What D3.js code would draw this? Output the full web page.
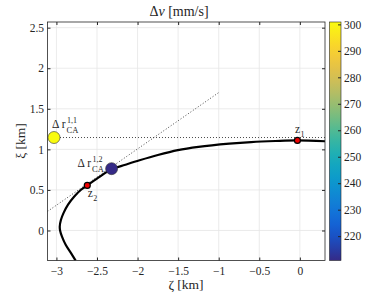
<!DOCTYPE html>
<html>
<head>
<meta charset="utf-8">
<script src="https://cdn.jsdelivr.net/npm/d3@7"></script>
<style>
  body { margin: 0; background: #fff; }
</style>
</head>
<body>
<svg id="chart" width="390" height="293"></svg>
<script>
// curve (zeta, xi) in km
const curveZeta = [-2.763, -2.82, -2.886, -2.93, -2.955, -2.959, -2.945, -2.91, -2.857, -2.78, -2.693, -2.62, -2.5, -2.32, -2.15, -1.975, -1.75, -1.504, -1.25, -0.87, -0.6, -0.3, -0.03, 0.31];
const curveXi   = [-0.372, -0.28, -0.177, -0.08, 0.0, 0.05, 0.13, 0.22, 0.319, 0.42, 0.505, 0.555, 0.64, 0.755, 0.81, 0.865, 0.93, 0.99, 1.03, 1.07, 1.09, 1.103, 1.11, 1.10];

// coloured dots: delta r_CA
const dotZeta = [-3.03, -2.32];
const dotXi = [1.146, 0.762];
const dotDv = [300.9, 210.8];

// red points z1, z2
const zZeta = [-0.03, -2.62];
const zXi = [1.11, 0.555];

// dotted guide lines
const hLine = { zeta: [-3.03, 0.31], xi: [1.146, 1.146] };
const dLine = { zeta: [-3.11, -1.0], xi: [0.235, 1.70] };

const xTicks = [-3, -2.5, -2, -1.5, -1, -0.5, 0];
const yTicks = [0, 0.5, 1, 1.5, 2, 2.5];
const cTicks = [220, 230, 240, 250, 260, 270, 280, 290, 300];

// parula approximation
const parulaStops = ["#352a87", "#0f5cdd", "#1481d6", "#06a4ca", "#2eb7a4", "#87bf77", "#d1bb59", "#fec832", "#f9fb0e"];
const parula = d3.interpolateRgbBasis(parulaStops);

const FONT = "Liberation Serif";
const svg = d3.select("#chart").style("font-family", FONT);
const L = 47.5, R = 325, T = 22, B = 260.5;

const x = d3.scaleLinear().domain([-3.11, 0.31]).range([L, R]);
const y = d3.scaleLinear().domain([-0.37, 2.57]).range([B, T]);
const cExt = d3.extent(dotDv);
const color = d3.scaleSequential(parula).domain(cExt);

svg.append("rect").attr("width", 390).attr("height", 293).attr("fill", "#fff");

svg.append("clipPath").attr("id", "clip")
  .append("rect").attr("x", L).attr("y", T).attr("width", R - L).attr("height", B - T);

// grid
const grid = svg.append("g").attr("stroke", "#e6e6e6").attr("stroke-width", 0.8);
grid.selectAll(".gx").data(xTicks).enter().append("line")
  .attr("x1", d => x(d)).attr("x2", d => x(d)).attr("y1", T).attr("y2", B);
grid.selectAll(".gy").data(yTicks).enter().append("line")
  .attr("y1", d => y(d)).attr("y2", d => y(d)).attr("x1", L).attr("x2", R);

// axes (inside ticks, box on)
function styleAxis(g) {
  g.attr("font-family", FONT);
  g.select(".domain").remove();
  g.selectAll(".tick line").attr("stroke", "#262626");
  g.selectAll(".tick text").attr("font-size", 11.5).attr("fill", "#262626").attr("font-family", FONT);
}
svg.append("g").attr("transform", `translate(0,${B})`)
  .call(d3.axisBottom(x).tickValues(xTicks).tickSize(-3).tickPadding(6.5).tickFormat(d3.format("")))
  .call(styleAxis);
svg.append("g").attr("transform", `translate(0,${T})`)
  .call(d3.axisTop(x).tickValues(xTicks).tickSize(-3).tickFormat(""))
  .call(styleAxis);
svg.append("g").attr("transform", `translate(${L},0)`)
  .call(d3.axisLeft(y).tickValues(yTicks).tickSize(-3).tickPadding(3.5).tickFormat(d3.format("")))
  .call(styleAxis);
svg.append("g").attr("transform", `translate(${R},0)`)
  .call(d3.axisRight(y).tickValues(yTicks).tickSize(-3).tickFormat(""))
  .call(styleAxis);

const plot = svg.append("g").attr("clip-path", "url(#clip)");

const line = d3.line().x(d => x(d[0])).y(d => y(d[1]));

plot.append("path")
  .attr("d", line(d3.zip(dLine.zeta, dLine.xi)))
  .attr("fill", "none").attr("stroke", "#333").attr("stroke-width", 0.9).attr("stroke-dasharray", "1 2");
plot.append("path")
  .attr("d", line(d3.zip(hLine.zeta, hLine.xi)))
  .attr("fill", "none").attr("stroke", "#333").attr("stroke-width", 0.9).attr("stroke-dasharray", "1 2");

plot.append("path")
  .attr("d", line.curve(d3.curveCatmullRom)(d3.zip(curveZeta, curveXi)))
  .attr("fill", "none").attr("stroke", "#000").attr("stroke-width", 2.2);

// red z points
plot.selectAll(".zp").data(d3.zip(zZeta, zXi)).enter().append("circle")
  .attr("cx", d => x(d[0])).attr("cy", d => y(d[1])).attr("r", 3)
  .attr("fill", "#e00").attr("stroke", "#000").attr("stroke-width", 1.2);

// coloured dots
plot.selectAll(".dp").data(d3.zip(dotZeta, dotXi, dotDv)).enter().append("circle")
  .attr("cx", d => x(d[0])).attr("cy", d => y(d[1])).attr("r", 6)
  .attr("fill", d => color(d[2])).attr("stroke", "#333").attr("stroke-width", 0.6);

// box
svg.append("rect").attr("x", L).attr("y", T).attr("width", R - L).attr("height", B - T)
  .attr("fill", "none").attr("stroke", "#262626").attr("stroke-width", 0.8);

// annotations
function txt(g, px, py, size, s) {
  return g.append("text").attr("x", px).attr("y", py).attr("font-size", size)
    .attr("font-family", FONT).attr("fill", "#262626").text(s);
}
function rLabel(px, py, sup) {
  const g = svg.append("g").attr("transform", `translate(${px},${py})`);
  txt(g, 0, 0, 11.5, "Δ r");
  txt(g, 15, -5, 8, sup);
  txt(g, 14.5, 4.5, 8.5, "CA");
}
rLabel(x(dotZeta[0]) - 2, y(dotXi[0]) - 9.5, "1,1");
rLabel(x(dotZeta[1]) - 34, y(dotXi[1]) - 1.5, "1,2");

function zLabel(px, py, sub) {
  const g = svg.append("g").attr("transform", `translate(${px},${py})`);
  txt(g, 0, 0, 11.5, "z");
  txt(g, 5.5, 4, 8, sub);
}
zLabel(x(zZeta[0]) - 2.5, y(zXi[0]) - 7, "1");
zLabel(x(zZeta[1]) + 0.5, y(zXi[1]) + 11.5, "2");

// titles
txt(svg, 179, 16, 14, "").attr("text-anchor", "middle")
  .html('Δ<tspan font-style="italic">v</tspan> [mm/s]');
txt(svg, 186, 289, 13.5, "ζ [km]").attr("text-anchor", "middle");
txt(svg, 0, 0, 13.5, "ξ [km]").attr("text-anchor", "middle")
  .attr("transform", "translate(25,141) rotate(-90)");

// colorbar
const cbL = 329.5, cbR = 341;
const cy = d3.scaleLinear().domain(cExt).range([B, T]);
const grad = svg.append("defs").append("linearGradient").attr("id", "cbgrad")
  .attr("x1", 0).attr("y1", 1).attr("x2", 0).attr("y2", 0);
grad.selectAll("stop").data(d3.range(0, 1.0001, 0.05)).enter().append("stop")
  .attr("offset", d => d).attr("stop-color", d => parula(d));
svg.append("rect").attr("x", cbL).attr("y", T).attr("width", cbR - cbL).attr("height", B - T)
  .attr("fill", "url(#cbgrad)").attr("stroke", "#262626").attr("stroke-width", 0.6);
svg.append("g").attr("transform", `translate(${cbR},0)`)
  .call(d3.axisRight(cy).tickValues(cTicks).tickSize(-3).tickPadding(3).tickFormat(d3.format("")))
  .call(styleAxis);
</script>
</body>
</html>
